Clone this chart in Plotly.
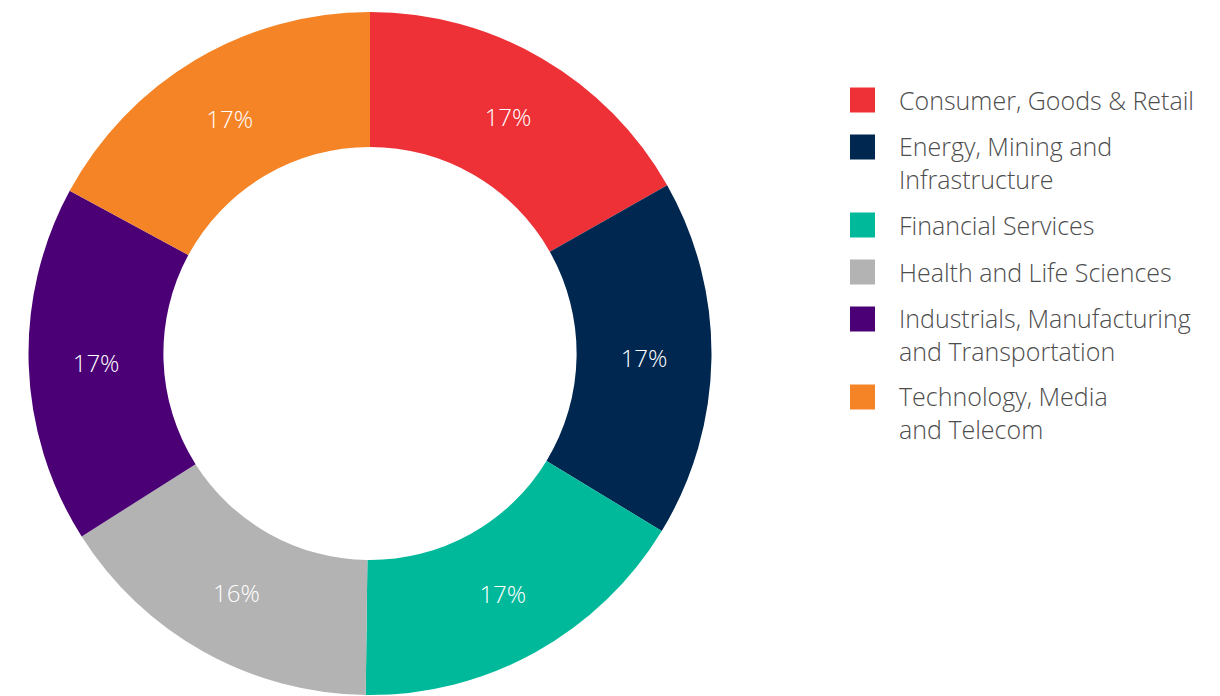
import plotly.graph_objects as go

# sector shares and colours
sectors = [
    "Consumer, Goods & Retail",
    "Energy, Mining and<br>Infrastructure",
    "Financial Services",
    "Health and Life Sciences",
    "Industrials, Manufacturing<br>and Transportation",
    "Technology, Media<br>and Telecom",
]
shares = [16.8, 16.9, 16.5, 15.8, 16.9, 17.1]
colors = ["#EE3137", "#00274F", "#00B99A", "#B3B3B3", "#4B0076", "#F58426"]

W, H = 1220, 696
FONT = "Open Sans"

fig = go.Figure(go.Pie(
    labels=[s.replace("<br>", " ") for s in sectors],
    values=shares,
    hole=0.605,
    sort=False,
    direction="clockwise",
    rotation=0,
    marker=dict(colors=colors, line=dict(width=0)),
    texttemplate="%{percent:.0%}",
    textposition="inside",
    insidetextorientation="horizontal",
    insidetextfont=dict(family=FONT, size=24, color="white", weight=300),
    domain=dict(x=[28 / W, 712 / W], y=[1 / H, 684 / H]),
    showlegend=False,
))

# hand-made legend: big squares with wrapped labels
shapes, annotations = [], []
y = 100
for name, col in zip(sectors, colors):
    nlines = name.count("<br>") + 1
    shapes.append(dict(type="rect", xref="paper", yref="paper",
                       x0=850 / W, x1=875 / W,
                       y0=1 - (y - 12.5) / H, y1=1 - (y + 12.5) / H,
                       fillcolor=col, line=dict(width=0)))
    annotations.append(dict(text=name, xref="paper", yref="paper",
                            x=897 / W, y=1 - (y + (nlines - 1) * 15.5) / H,
                            xanchor="left", yanchor="middle", align="left",
                            showarrow=False,
                            font=dict(family=FONT, size=25, color="#4D4D4D", weight=300)))
    y += 47 + 31 * (nlines - 1)

# right edge of the ring is cut off in the original
shapes.append(dict(type="rect", xref="paper", yref="paper", layer="above",
                   x0=713 / W, x1=725 / W, y0=0, y1=1,
                   fillcolor="white", line=dict(width=0)))

fig.update_layout(
    width=W, height=H,
    margin=dict(l=0, r=0, t=0, b=0),
    paper_bgcolor="white",
    shapes=shapes,
    annotations=annotations,
)
fig.write_html("out.html", config={"displayModeBar": False},
               post_script="document.body.style.margin='0';")
